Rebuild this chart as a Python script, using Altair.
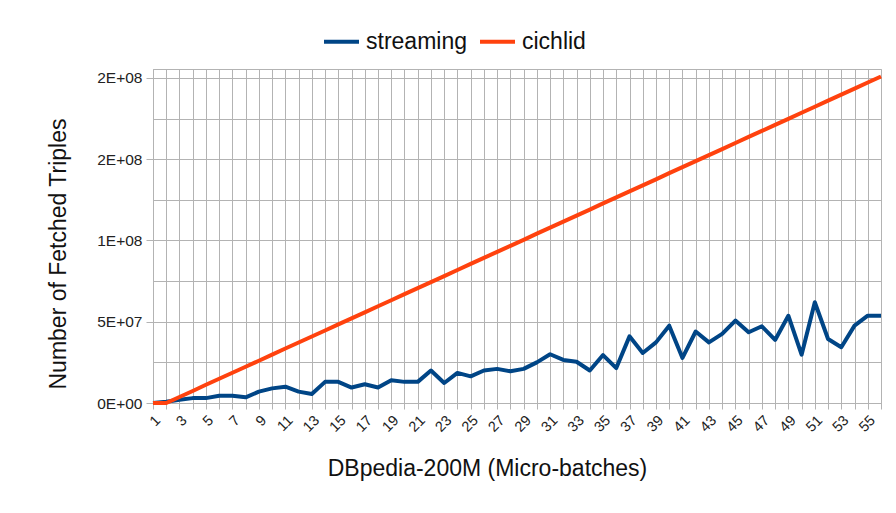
import altair as alt
import pandas as pd

# ---- data ----
batches = list(range(1, 57))

# streaming series, in millions of triples
streaming_m = [
    0, 0.8, 2, 3, 3, 4.5, 4.5, 3.5, 7, 9,
    10, 7, 5.5, 13, 13, 9.5, 11.5, 9.5, 14, 13,
    13, 20, 12.3, 18.5, 16.4, 20, 21, 19.5, 21, 25,
    30, 26.5, 25.4, 20, 29.5, 21.5, 41, 30.8, 37.3, 47.6,
    27.7, 44, 37.3, 42.5, 50.7, 43.5, 47.2, 38.8, 53.7, 29.7,
    62, 39.4, 34.3, 47.6, 53.7, 53.7,
]

# cichlid series, in millions of triples
cichlid_m = [
    0, 0, 3.7, 7.4, 11.2, 14.9, 18.6, 22.3, 26.0, 29.8,
    33.5, 37.2, 40.9, 44.6, 48.4, 52.1, 55.8, 59.5, 63.2, 67.0,
    70.7, 74.4, 78.1, 81.8, 85.6, 89.3, 93.0, 96.7, 100.4, 104.2,
    107.9, 111.6, 115.3, 119.0, 122.8, 126.5, 130.2, 133.9, 137.6, 141.4,
    145.1, 148.8, 152.5, 156.2, 160.0, 163.7, 167.4, 171.1, 174.8, 178.6,
    182.3, 186.0, 189.7, 193.4, 197.2, 200.9,
]

series_names = ["streaming", "cichlid"]
series_colors = ["#004586", "#ff420e"]

y_tick_values = [0, 50000000, 100000000, 150000000, 200000000]
y_tick_labels = ["0E+00", "5E+07", "1E+08", "2E+08", "2E+08"]
y_grid_values = [0, 25000000, 50000000, 75000000, 100000000,
                 125000000, 150000000, 175000000, 200000000]

x_title = "DBpedia-200M (Micro-batches)"
y_title = "Number of Fetched Triples"

# ---- table ----
rows = []
for b, s, c in zip(batches, streaming_m, cichlid_m):
    rows.append({"batch": b, "series": series_names[0], "value": s * 1e6, "ord": 0})
    rows.append({"batch": b, "series": series_names[1], "value": c * 1e6, "ord": 1})
df = pd.DataFrame(rows)

# label expression for the y axis
y_expr = "''"
for v, lab in reversed(list(zip(y_tick_values, y_tick_labels))):
    y_expr = f"datum.value == {v} ? '{lab}' : ({y_expr})"
major_list = "[" + ",".join(str(v) for v in y_tick_values) + "]"

FONT = "Liberation Sans"
GRID = "#b3b3b3"

chart = alt.Chart(df).mark_line(strokeWidth=4, strokeJoin="round").encode(
    x=alt.X(
        "batch:Q",
        scale=alt.Scale(domain=[1, 56], nice=False, zero=False),
        axis=alt.Axis(
            values=batches,
            labelExpr="datum.value % 2 == 1 ? datum.label : ''",
            labelAngle=-45,
            labelAlign="right",
            labelBaseline="top",
            labelFontSize=14.5,
            labelPadding=4,
            labelOverlap=False,
            labelFlush=False,
            labelColor="#222222",
            tickSize=6,
            tickColor=GRID,
            domainColor=GRID,
            grid=True,
            gridColor=GRID,
            gridWidth=1,
            title=x_title,
            titleFontSize=23,
            titleFontWeight="normal",
            titleColor="#111111",
            titleX=334,
            titleY=72,
            titleAlign="center",
            titleBaseline="alphabetic",
        ),
    ),
    y=alt.Y(
        "value:Q",
        scale=alt.Scale(domain=[0, 205500000], nice=False, zero=True),
        axis=alt.Axis(
            values=y_grid_values,
            labelExpr=y_expr,
            labelFontSize=15.5,
            labelPadding=4,
            labelOverlap=False,
            labelColor="#222222",
            tickSize=7,
            tickColor=GRID,
            tickOpacity={"condition": {"test": f"indexof({major_list}, datum.value) >= 0", "value": 1}, "value": 0},
            domainColor=GRID,
            grid=True,
            gridColor=GRID,
            gridWidth=1,
            title=y_title,
            titleFontSize=23,
            titleFontWeight="normal",
            titleColor="#111111",
            titleX=-88,
            titleY=184.5,
            titleAlign="center",
            titleBaseline="alphabetic",
        ),
    ),
    color=alt.Color(
        "series:N",
        scale=alt.Scale(domain=series_names, range=series_colors),
        legend=alt.Legend(
            orient="none",
            legendX=169,
            legendY=-47,
            direction="horizontal",
            title=None,
            symbolType="stroke",
            symbolSize=1225,
            symbolStrokeWidth=4,
            labelFontSize=23,
            labelFont=FONT,
            labelColor="#111111",
            labelOffset=5,
            columnPadding=5,
            padding=0,
        ),
    ),
    order=alt.Order("ord:Q"),
).properties(
    width=728,
    height=334,
    autosize=alt.AutoSizeParams(type="none"),
    padding={"left": 145, "top": 61, "right": 5, "bottom": 90},
).configure(
    font=FONT,
).configure_view(
    stroke=GRID,
    strokeWidth=1,
)

chart.save("out.html", embed_options={"renderer": "svg", "actions": False})
